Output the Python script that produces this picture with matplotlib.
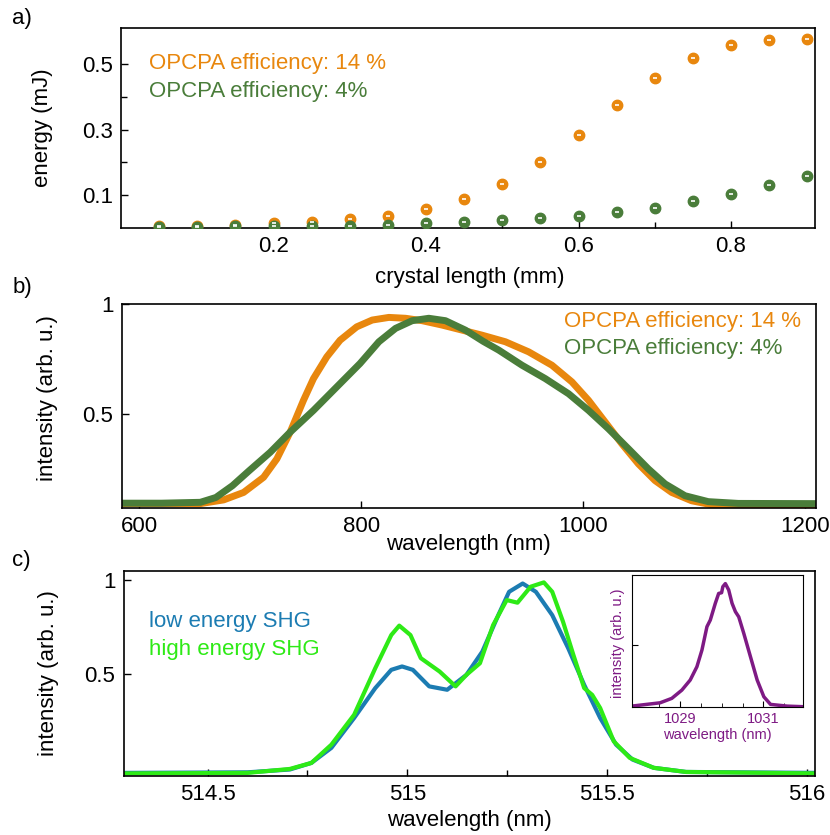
import numpy as np
import matplotlib
matplotlib.use('agg')
import matplotlib.pyplot as plt
from matplotlib.ticker import FixedLocator, NullFormatter

plt.rcParams['font.family'] = ['Liberation Sans', 'DejaVu Sans']

# panel a: energy vs crystal length
crystal_length = [0.05, 0.10, 0.15, 0.20, 0.25, 0.30, 0.35, 0.40, 0.45,
                  0.50, 0.55, 0.60, 0.65, 0.70, 0.75, 0.80, 0.85, 0.90]
energy_14 = [0.007, 0.007, 0.009, 0.015, 0.019, 0.027, 0.037, 0.058, 0.087,
             0.134, 0.200, 0.284, 0.374, 0.456, 0.517, 0.557, 0.573, 0.576]
energy_4 = [0.003, 0.004, 0.005, 0.006, 0.007, 0.007, 0.010, 0.015, 0.018,
            0.024, 0.030, 0.037, 0.049, 0.062, 0.081, 0.103, 0.130, 0.158]

# panel b: OPCPA spectra
wl_b_14 = [584, 620, 655, 676, 694, 712, 724, 736, 748, 757, 769, 781, 796,
           810, 825, 840, 855, 873, 891, 909, 930, 951, 972, 990, 1005, 1020,
           1035, 1050, 1065, 1080, 1098, 1116, 1140, 1176, 1210]
int_b_14 = [0.090, 0.090, 0.090, 0.107, 0.141, 0.210, 0.294, 0.416, 0.561,
            0.660, 0.759, 0.835, 0.896, 0.927, 0.939, 0.935, 0.924, 0.904,
            0.881, 0.858, 0.828, 0.782, 0.721, 0.645, 0.561, 0.462, 0.363,
            0.271, 0.195, 0.141, 0.103, 0.085, 0.079, 0.082, 0.082]
wl_b_4 = [584, 620, 655, 669, 684, 699, 718, 736, 757, 778, 799, 816, 831,
          846, 861, 876, 894, 910, 924, 945, 966, 987, 1005, 1023, 1041, 1059,
          1074, 1092, 1113, 1140, 1210]
int_b_4 = [0.092, 0.092, 0.096, 0.118, 0.172, 0.240, 0.324, 0.416, 0.515,
           0.622, 0.729, 0.828, 0.889, 0.924, 0.935, 0.924, 0.881, 0.830,
           0.790, 0.721, 0.660, 0.591, 0.515, 0.431, 0.340, 0.248, 0.180,
           0.126, 0.099, 0.091, 0.090]

# panel c: SHG spectra
wl_c_low = [514.29, 514.60, 514.706, 514.76, 514.81, 514.867, 514.92, 514.96,
            514.987, 515.014, 515.055, 515.10, 515.148, 515.188, 515.228,
            515.255, 515.289, 515.322, 515.363, 515.403, 515.443, 515.483,
            515.523, 515.564, 515.617, 515.698, 516.03]
int_c_low = [-0.025, -0.022, -0.007, 0.028, 0.108, 0.267, 0.426, 0.523,
             0.541, 0.523, 0.435, 0.417, 0.496, 0.620, 0.814, 0.938, 0.982,
             0.938, 0.814, 0.638, 0.443, 0.267, 0.125, 0.046, 0.002, -0.020,
             -0.025]
wl_c_high = [514.29, 514.60, 514.706, 514.76, 514.81, 514.867, 514.92,
             514.96, 514.98, 515.008, 515.034, 515.081, 515.121, 515.148,
             515.182, 515.215, 515.249, 515.276, 515.309, 515.342, 515.363,
             515.39, 515.416, 515.443, 515.463, 515.483, 515.517, 515.557,
             515.617, 515.698, 516.03]
int_c_high = [-0.028, -0.025, -0.004, 0.028, 0.125, 0.284, 0.532, 0.708,
              0.758, 0.708, 0.585, 0.514, 0.435, 0.496, 0.558, 0.761, 0.894,
              0.880, 0.965, 0.988, 0.938, 0.779, 0.602, 0.426, 0.390, 0.320,
              0.143, 0.055, 0.002, -0.020, -0.028]

# inset: fundamental spectrum
wl_inset = [1027.85, 1028.53, 1028.81, 1029.05, 1029.25, 1029.41, 1029.53,
            1029.65, 1029.73, 1029.85, 1029.93, 1030.0, 1030.03, 1030.09,
            1030.17, 1030.25, 1030.33, 1030.41, 1030.53, 1030.69, 1030.85,
            1031.01, 1031.17, 1031.57, 1031.97]
int_inset = [0.005, 0.032, 0.068, 0.135, 0.217, 0.325, 0.460, 0.650, 0.704,
             0.840, 0.920, 0.926, 0.975, 1.000, 0.948, 0.840, 0.772, 0.730,
             0.596, 0.406, 0.217, 0.081, 0.019, 0.005, 0.000]

orange = '#e8870e'
dkgreen = '#4a7d3a'
blue = '#1c7cb2'
ltgreen = '#2eea16'
purple = '#7e1a84'
fs = 16

fig = plt.figure(figsize=(8.3, 8.35), dpi=100)


def style_axes(ax):
    ax.tick_params(which='both', direction='in', labelsize=fs, width=1, pad=6)
    ax.tick_params(which='major', length=5)
    ax.tick_params(which='minor', length=4)
    for sp in ax.spines.values():
        sp.set_linewidth(1.2)


#panel a
ax1 = fig.add_axes([0.1458, 0.727, 0.836, 0.2395])
ax1.plot(crystal_length, energy_14, 'o', color=orange, ms=7.5, zorder=3)
ax1.plot(crystal_length, energy_14, '_', color='white', ms=3.5, mew=1.2, zorder=4)
ax1.plot(crystal_length, energy_4, 'o', color=dkgreen, ms=7.5, zorder=3)
ax1.plot(crystal_length, energy_4, '_', color='white', ms=3.5, mew=1.2, zorder=4)
ax1.set_xlim(0, 0.91)
ax1.set_ylim(0, 0.61)
ax1.xaxis.set_major_locator(FixedLocator([0.2, 0.4, 0.6, 0.8]))
ax1.xaxis.set_minor_locator(FixedLocator([0.3, 0.5, 0.7]))
ax1.yaxis.set_major_locator(FixedLocator([0.1, 0.3, 0.5]))
ax1.yaxis.set_minor_locator(FixedLocator([0.2, 0.4]))
style_axes(ax1)
ax1.set_xlabel('crystal length (mm)', fontsize=fs)
ax1.set_ylabel('energy (mJ)', fontsize=fs)
ax1.xaxis.set_label_coords(0.503, -0.195)
ax1.yaxis.set_label_coords(-0.098, 0.5)
ax1.text(0.04, 0.82, 'OPCPA efficiency: 14 %', color=orange, fontsize=fs,
         transform=ax1.transAxes, va='center')
ax1.text(0.04, 0.68, 'OPCPA efficiency: 4%', color=dkgreen, fontsize=fs,
         transform=ax1.transAxes, va='center')

#panel b
ax2 = fig.add_axes([0.1465, 0.3916, 0.8365, 0.2443])
ax2.plot(wl_b_14, int_b_14, color=orange, lw=5, solid_capstyle='butt',
         solid_joinstyle='round')
ax2.plot(wl_b_4, int_b_4, color=dkgreen, lw=5, solid_capstyle='butt',
         solid_joinstyle='round')
ax2.set_xlim(584, 1210)
ax2.set_ylim(0.07, 1.0)
ax2.xaxis.set_major_locator(FixedLocator([600, 800, 1000, 1200]))
ax2.yaxis.set_major_locator(FixedLocator([0.5, 1.0]))
ax2.set_yticklabels(['0.5', '1'])
style_axes(ax2)
ax2.set_xlabel('wavelength (nm)', fontsize=fs)
ax2.set_ylabel('intensity (arb. u.)', fontsize=fs)
ax2.xaxis.set_label_coords(0.5, -0.125)
ax2.yaxis.set_label_coords(-0.091, 0.54)
ax2.text(0.6375, 0.913, 'OPCPA efficiency: 14 %', color=orange, fontsize=fs,
         transform=ax2.transAxes, va='center')
ax2.text(0.6375, 0.784, 'OPCPA efficiency: 4%', color=dkgreen, fontsize=fs,
         transform=ax2.transAxes, va='center')

#panel c
ax3 = fig.add_axes([0.149, 0.071, 0.8325, 0.2455])
ax3.plot(wl_c_low, int_c_low, color=blue, lw=3, solid_joinstyle='round')
ax3.plot(wl_c_high, int_c_high, color=ltgreen, lw=3, solid_joinstyle='round')
ax3.set_xlim(514.29, 516.02)
ax3.set_ylim(-0.04, 1.05)
ax3.xaxis.set_major_locator(FixedLocator([514.5, 515, 515.5, 516]))
ax3.set_xticklabels(['514.5', '515', '515.5', '516'])
ax3.xaxis.set_minor_locator(FixedLocator([514.75, 515.25, 515.75]))
ax3.yaxis.set_major_locator(FixedLocator([0.5, 1.0]))
ax3.set_yticklabels(['0.5', '1'])
style_axes(ax3)
ax3.set_xlabel('wavelength (nm)', fontsize=fs)
ax3.set_ylabel('intensity (arb. u.)', fontsize=fs)
ax3.xaxis.set_label_coords(0.5, -0.165)
ax3.yaxis.set_label_coords(-0.094, 0.5)
ax3.text(0.037, 0.751, 'low energy SHG', color=blue, fontsize=fs,
         transform=ax3.transAxes, va='center')
ax3.text(0.037, 0.618, 'high energy SHG', color=ltgreen, fontsize=fs,
         transform=ax3.transAxes, va='center')

#inset
ax4 = fig.add_axes([0.761, 0.1536, 0.2067, 0.1578])
ax4.plot(wl_inset, int_inset, color=purple, lw=2.5, solid_joinstyle='round')
ax4.set_xlim(1027.85, 1031.95)
ax4.set_ylim(0, 1.07)
ax4.xaxis.set_major_locator(FixedLocator([1029, 1031]))
ax4.xaxis.set_minor_locator(FixedLocator([1028.5, 1029.5, 1030, 1030.5, 1031.5]))
ax4.yaxis.set_major_locator(FixedLocator([0.5]))
ax4.yaxis.set_major_formatter(NullFormatter())
ax4.tick_params(which='both', direction='in', labelsize=10.5, labelcolor=purple, pad=4)
ax4.tick_params(which='major', length=4)
ax4.tick_params(which='minor', length=3)
ax4.set_xlabel('wavelength (nm)', fontsize=10.5, color=purple)
ax4.set_ylabel('intensity (arb. u.)', fontsize=10.5, color=purple)
ax4.xaxis.set_label_coords(0.5, -0.16)
ax4.yaxis.set_label_coords(-0.04, 0.484)

fig.text(0.015, 0.978, 'a)', fontsize=fs, va='center')
fig.text(0.015, 0.656, 'b)', fontsize=fs, va='center')
fig.text(0.015, 0.329, 'c)', fontsize=fs, va='center')

fig.savefig('out.png', dpi=100)
